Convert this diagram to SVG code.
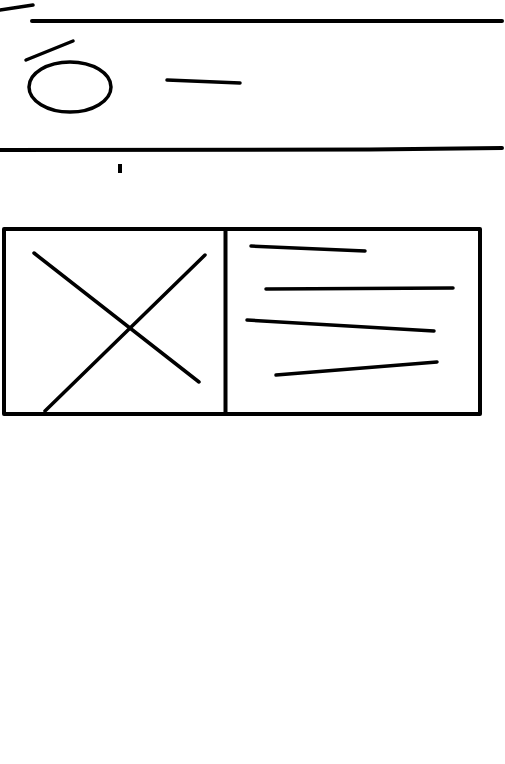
<svg xmlns="http://www.w3.org/2000/svg" width="505" height="764" viewBox="0 0 505 764">
<style>
.s{fill:none;stroke:#000;stroke-width:4;stroke-linecap:round;stroke-linejoin:round}
.t{fill:none;stroke:#000;stroke-width:3.5;stroke-linecap:round}
</style>
<rect width="505" height="764" fill="#fff"/>
<g id="header">
<path class="t" d="M0 10 L33 5"/>
<path class="s" d="M32 21 L502 21"/>
<path class="t" d="M26 60 L73 41"/>
<ellipse class="t" cx="70" cy="87" rx="41" ry="25"/>
<path class="t" d="M167 80 L240 83"/>
<path class="s" d="M0 150 L370 149.5 L502 148"/>
<rect x="118" y="164" width="4" height="9" fill="#000"/>
</g>
<g id="card">
<rect class="s" x="4" y="229" width="476" height="185" stroke-linecap="butt" stroke-linejoin="miter"/>
<path class="s" d="M225.5 229 L225.5 414" stroke-linecap="butt"/>
<path class="t" d="M34 253 L199 382"/>
<path class="t" d="M45 411 L205 255"/>
<path class="t" d="M251 246 L365 251"/>
<path class="t" d="M266 289 L453 288"/>
<path class="t" d="M247 320 L434 331"/>
<path class="t" d="M276 375 L437 362"/>
</g>
</svg>
